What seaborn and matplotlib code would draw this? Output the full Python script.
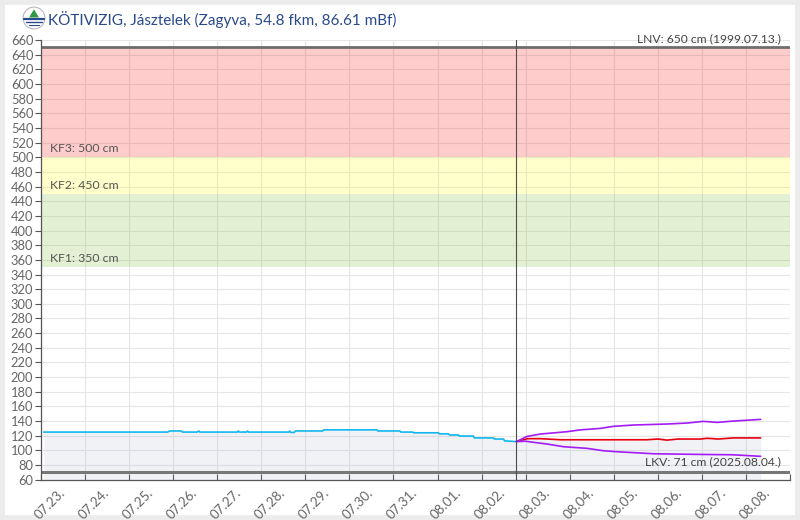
import numpy as np
import pandas as pd
import matplotlib
matplotlib.use("Agg")
import matplotlib.pyplot as plt
import matplotlib.dates as mdates
from matplotlib.patches import Rectangle, Circle, Polygon
import seaborn as sns

# ---------------- data ----------------
title = "KÖTIVIZIG, Jásztelek (Zagyva, 54.8 fkm, 86.61 mBf)"
start_time = "2025-07-23 00:00"
end_time = "2025-08-09 00:00"
now_hour = 259

obs_hours = [1.5, 69, 70, 76.5, 77, 85, 86, 86.5, 107, 107.5, 108, 112, 112.5, 113,
             135, 135.5, 136, 138, 138.5, 153.5, 154, 183, 183.5, 195.5, 196, 202.5,
             203, 216.5, 217, 222, 222.5, 227.5, 228, 235.5, 236, 246.5, 247, 252,
             252.5, 259]
obs_values = [125, 125, 126.5, 126.5, 125, 125, 126.5, 125, 125, 126.5, 125, 125, 126.5, 125,
              125, 126.5, 124.5, 124.5, 126.5, 126.5, 128, 128, 126.5, 126.5, 125, 125,
              124, 124, 122.5, 122.5, 121, 121, 119.6, 119.6, 117, 117, 115.5, 115.5,
              113, 112]

median_hours = [259, 265, 272, 283, 330, 336, 341, 347, 359, 363, 369, 377, 392]
median_values = [112, 116, 116, 114.5, 114.5, 115.5, 114, 115.5, 115.5, 116.5, 115.5, 117, 117]

upper_hours = [259, 264.7, 272, 286.5, 293.8, 304.7, 311.7, 322.6, 341.1, 352, 360.7, 368.4, 377, 386.2, 392]
upper_values = [112, 119, 122.3, 125.5, 128, 130, 132.8, 134.6, 136, 137.3, 139.6, 138.2, 140, 141.4, 142.3]

lower_hours = [259, 264, 268.3, 275.6, 284.7, 297.4, 306.4, 313.7, 333.7, 359.2, 377, 392]
lower_values = [112, 112.5, 111, 108.7, 105, 102.8, 99.5, 98.2, 95.4, 94.5, 94, 91.9]

band_labels = ["KF1: 350 cm", "KF2: 450 cm", "KF3: 500 cm"]
band_low = [350, 450, 500]
band_high = [450, 500, 650]
band_colors = [(0.47, 0.72, 0.16, 0.2), (1, 1, 0, 0.2), (1, 0, 0, 0.2)]

lnv_value = 650
lnv_label = "LNV: 650 cm (1999.07.13.)"
lkv_value = 71
lkv_label = "LKV: 71 cm (2025.08.04.)"

y_min, y_max, y_step = 60, 660, 20

# ---------------- build frame ----------------
t0 = pd.Timestamp(start_time)
def to_time(hours):
    return [t0 + pd.Timedelta(hours=h) for h in hours]

frames = []
for name, hrs, vals in [("obs", obs_hours, obs_values),
                        ("median", median_hours, median_values),
                        ("upper", upper_hours, upper_values),
                        ("lower", lower_hours, lower_values)]:
    frames.append(pd.DataFrame({"time": to_time(hrs), "value": vals, "series": name}))
df = pd.concat(frames, ignore_index=True)

palette = {"obs": "#10b6ee", "median": "#e8000e", "upper": "#a21cf5", "lower": "#a21cf5"}

# ---------------- figure ----------------
sns.set_style("white")
plt.rcParams["font.family"] = ["Lato", "DejaVu Sans"]

fig = plt.figure(figsize=(8, 5.2), dpi=100)
fig.patch.set_facecolor("#ececec")
fig.patches.append(Rectangle((5 / 800, 5 / 520), 790 / 800, 510 / 520,
                             transform=fig.transFigure, facecolor="white",
                             edgecolor="none", zorder=-10))

ax = fig.add_axes([41 / 800, (520 - 479.7) / 520, (790 - 41) / 800, (479.7 - 40) / 520])
ax.set_facecolor("none")

# grid
ax.set_axisbelow(True)
ax.grid(True, which="major", color="#e6e6e6", lw=0.8, zorder=0)

# bands
for lo, hi, c, lab in zip(band_low, band_high, band_colors, band_labels):
    ax.axhspan(lo, hi, color=c, lw=0, zorder=0.6)
    ax.annotate(lab, xy=(0, lo), xycoords=("axes fraction", "data"),
                xytext=(9, 3), textcoords="offset pixels", ha="left", va="bottom",
                fontsize=8.8, color="#555555", zorder=5)

# fill under observed + median forecast
fill_t = to_time(obs_hours) + to_time(median_hours[1:])
fill_v = obs_values + median_values[1:]
ax.fill_between(fill_t, y_min, fill_v, color=(0.49, 0.53, 0.69, 0.1), lw=0, zorder=0.7)

# lines
sns.lineplot(data=df, x="time", y="value", hue="series", units="series",
             estimator=None, sort=False, palette=palette, lw=1.2,
             legend=False, ax=ax, zorder=3)

# LNV / LKV
ax.axhline(lnv_value, color="#6e6e6e", lw=2, zorder=2)
ax.axhline(lkv_value, color="#777777", lw=2.2, zorder=2)
ax.annotate(lnv_label, xy=(1, lnv_value), xycoords=("axes fraction", "data"),
            xytext=(-9, 3), textcoords="offset pixels", ha="right", va="bottom",
            fontsize=8.7, color="#444444")
ax.annotate(lkv_label, xy=(1, lkv_value), xycoords=("axes fraction", "data"),
            xytext=(-9, 4), textcoords="offset pixels", ha="right", va="bottom",
            fontsize=8.7, color="#444444")

# now line
ax.axvline(t0 + pd.Timedelta(hours=now_hour), color="#4d4d4d", lw=0.8, zorder=4)

# axes limits & ticks
ax.set_xlim(pd.Timestamp(start_time), pd.Timestamp(end_time))
ax.set_ylim(y_min, y_max)
ax.set_yticks(np.arange(y_min, y_max + 1, y_step))
ax.xaxis.set_major_locator(mdates.DayLocator())
ax.xaxis.set_major_formatter(plt.NullFormatter())
ax.xaxis.set_minor_locator(mdates.HourLocator(byhour=[12]))
ax.xaxis.set_minor_formatter(mdates.DateFormatter("%m.%d."))
ax.tick_params(axis="x", which="major", direction="in", length=4.5, width=0.8,
               color="#555555", bottom=True)
ax.tick_params(axis="x", which="minor", length=0, pad=8, labelsize=9.6,
               labelcolor="#666666", bottom=True)
for lab in ax.xaxis.get_minorticklabels():
    lab.set_rotation(45)
    lab.set_ha("right")
    lab.set_va("center")
    lab.set_rotation_mode("anchor")
ax.tick_params(axis="y", direction="out", length=4, width=0.8, color="#555555",
               pad=1.5, labelsize=9.3, labelcolor="#666666", left=True)
ax.set_xlabel("")
ax.set_ylabel("")
for s in ["top", "right"]:
    ax.spines[s].set_visible(False)
for s in ["left", "bottom"]:
    ax.spines[s].set_color("#555555")
    ax.spines[s].set_linewidth(0.9)

# title + icon
fig.text(48 / 800, 1 - 19 / 520, title, ha="left", va="center", fontsize=11,
         color="#2a4a8c")
iax = fig.add_axes([22 / 800, 1 - 30 / 520, 24 / 800, 24 / 520])
iax.set_xlim(-1.1, 1.1)
iax.set_ylim(-1.1, 1.1)
iax.set_aspect("equal")
iax.axis("off")
iax.add_patch(Circle((0, 0), 1.0, facecolor="white", edgecolor="#b8b8b8", lw=0.8))
iax.add_patch(Polygon([[-0.45, 0.05], [0.45, 0.05], [0, 0.8]], facecolor="#2e9a44", edgecolor="none"))
iax.plot([-0.95, 0.95], [-0.05, -0.05], color="#2a4a8c", lw=1.6)
iax.plot([-0.7, 0.7], [-0.35, -0.35], color="#2a4a8c", lw=1.0)
iax.plot([-0.5, 0.5], [-0.6, -0.6], color="#2a4a8c", lw=0.8)

fig.savefig("out.png", dpi=100, facecolor=fig.get_facecolor())
